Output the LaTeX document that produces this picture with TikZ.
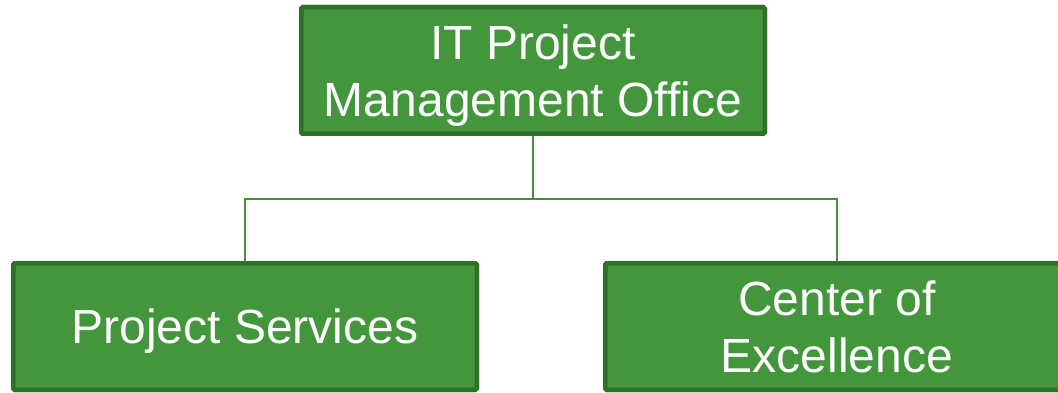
\documentclass[tikz,border=0pt]{standalone}
\usepackage{fontspec}
\setmainfont{Liberation Sans}
\definecolor{boxfill}{RGB}{67,150,60}
\definecolor{boxedge}{RGB}{46,112,40}
\definecolor{linkgreen}{RGB}{63,149,53}
\begin{document}
\begin{tikzpicture}[x=1pt,y=-1pt,
  orgbox/.style={rectangle, draw=boxedge, fill=boxfill, line width=4.5pt,
    rounded corners=1.5pt, minimum width=463.5pt, minimum height=126.5pt,
    inner sep=0pt, align=center, text=white, text depth=0pt,
    font=\fontsize{48}{57}\selectfont},
  link/.style={draw=linkgreen, line width=2pt}]
  \useasboundingbox (0,0) rectangle (1058,393);
  % org chart boxes
  \node[orgbox] (pmo) at (533,70.5) {IT Project\\Management Office};
  \node[orgbox] (ps)  at (245,326.5) {Project Services};
  \node[orgbox] (coe) at (837,326.5) {Center of\\Excellence};
  % connectors
  \coordinate (bus) at (533,198.5);
  \draw[link] (pmo.south) -- (bus);
  \draw[link] (ps.north) |- (bus) -| (coe.north);
  % redraw boxes above the connector ends
  \node[orgbox] at (pmo) {IT Project\\Management Office};
  \node[orgbox] at (ps) {Project Services};
  \node[orgbox] at (coe) {Center of\\Excellence};
\end{tikzpicture}
\end{document}
